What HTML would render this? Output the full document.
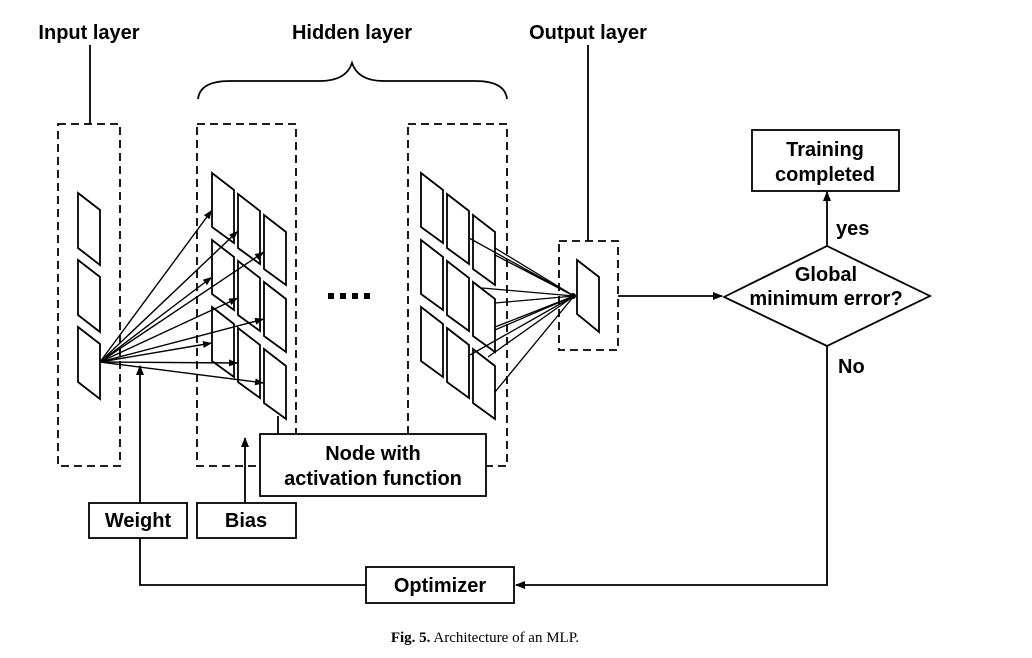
<!DOCTYPE html>
<html><head><meta charset="utf-8"><style>
html,body{margin:0;padding:0;background:#fff;}
svg{display:block;}
.t{font-family:"Liberation Sans",Arial,sans-serif;font-weight:bold;font-size:20px;fill:#000;}
</style></head><body>
<svg width="1032" height="658" viewBox="0 0 1032 658" xmlns="http://www.w3.org/2000/svg">
<defs>
<marker id="a" markerWidth="10" markerHeight="8" refX="9" refY="4" orient="auto" markerUnits="userSpaceOnUse"><path d="M0,0 L10,4 L0,8 z" fill="#000"/></marker>
<marker id="s" markerWidth="9" markerHeight="7" refX="9" refY="3.5" orient="auto" markerUnits="userSpaceOnUse"><path d="M0,0 L9,3.5 L0,7 z" fill="#000"/></marker>
</defs>
<g fill="none" stroke="#000" stroke-width="1.8">
<g stroke-dasharray="8,5">
<rect x="58" y="124" width="62" height="342"/>
<rect x="197" y="124" width="99" height="342"/>
<rect x="408" y="124" width="99" height="342"/>
<rect x="559" y="241" width="59" height="109"/>
</g>
<path d="M90,45 V124"/>
<path d="M588,45 V241"/>
<path d="M198,99 Q200,81 230,81 H320 Q346,81 352,63 Q358,81 384,81 H475 Q505,81 507,99"/>
<g fill="#fff">
<polygon points="78,193 100,210 100,265 78,248"/>
<polygon points="78,260 100,277 100,332 78,315"/>
<polygon points="78,327 100,344 100,399 78,382"/>
</g>
<g fill="#fff">
<polygon points="212,173 234,190 234,243 212,227"/>
<polygon points="238,194 260,211 260,264 238,248"/>
<polygon points="264,215 286,232 286,285 264,269"/>
<polygon points="212,240 234,257 234,310 212,294"/>
<polygon points="238,261 260,278 260,331 238,315"/>
<polygon points="264,282 286,299 286,352 264,336"/>
<polygon points="212,307 234,324 234,377 212,361"/>
<polygon points="238,328 260,345 260,398 238,382"/>
<polygon points="264,349 286,366 286,419 264,403"/>
</g>
<g stroke-width="1.4" marker-end="url(#s)">
<path d="M100,362 L212,210"/><path d="M100,362 L238,231"/><path d="M100,362 L264,252"/>
<path d="M100,362 L212,277"/><path d="M100,362 L238,298"/><path d="M100,362 L264,319"/>
<path d="M100,362 L212,343"/><path d="M100,362 L238,363"/><path d="M100,362 L264,383"/>
</g>
<g fill="#fff">
<polygon points="421,173 443,190 443,243 421,227"/>
<polygon points="447,194 469,211 469,264 447,248"/>
<polygon points="473,215 495,232 495,285 473,269"/>
<polygon points="421,240 443,257 443,310 421,294"/>
<polygon points="447,261 469,278 469,331 447,315"/>
<polygon points="473,282 495,299 495,352 473,336"/>
<polygon points="421,307 443,324 443,377 421,361"/>
<polygon points="447,328 469,345 469,398 447,382"/>
<polygon points="473,349 495,366 495,419 473,403"/>
</g>
<g stroke-width="1.3">
<path d="M495,248 L574,296"/><path d="M495,255 L574,296"/><path d="M469,238 L574,296"/>
<path d="M482,288 L574,296"/><path d="M495,303 L574,296"/><path d="M495,327 L574,296"/>
<path d="M495,330 L574,296"/><path d="M470,355 L574,296"/><path d="M488,357 L574,296"/>
<path d="M495,392 L574,296"/>
</g>
<circle cx="573" cy="296" r="3" fill="#000" stroke="none"/>
<polygon points="577,260 599,277 599,332 577,314" fill="#fff"/>
<g fill="#000" stroke="none">
<rect x="328" y="293" width="6" height="6"/><rect x="340" y="293" width="6" height="6"/>
<rect x="352" y="293" width="6" height="6"/><rect x="364" y="293" width="6" height="6"/>
</g>
<path d="M618,296 H722" marker-end="url(#a)"/>
<polygon points="724,297 827,246 930,296 827,346" fill="#fff"/>
<path d="M827,246 V192" marker-end="url(#a)"/>
<rect x="752" y="130" width="147" height="61" fill="#fff"/>
<path d="M827,346 V585 H516" marker-end="url(#a)"/>
<rect x="366" y="567" width="148" height="36" fill="#fff"/>
<path d="M366,585 H140 V538"/>
<rect x="89" y="503" width="98" height="35" fill="#fff"/>
<path d="M140,503 V366" marker-end="url(#a)"/>
<rect x="197" y="503" width="99" height="35" fill="#fff"/>
<path d="M245,503 V438" marker-end="url(#a)"/>
<path d="M278,434 V416"/>
<rect x="260" y="434" width="226" height="62" fill="#fff"/>
</g>
<text class="t" x="89" y="39" text-anchor="middle">Input layer</text>
<text class="t" x="352" y="39" text-anchor="middle">Hidden layer</text>
<text class="t" x="588" y="39" text-anchor="middle">Output layer</text>
<text class="t" x="825" y="156" text-anchor="middle">Training</text>
<text class="t" x="825" y="181" text-anchor="middle">completed</text>
<text class="t" x="836" y="235">yes</text>
<text class="t" x="826" y="281" text-anchor="middle">Global</text>
<text class="t" x="826" y="305" text-anchor="middle">minimum error?</text>
<text class="t" x="838" y="373">No</text>
<text class="t" x="373" y="460" text-anchor="middle">Node with</text>
<text class="t" x="373" y="485" text-anchor="middle">activation function</text>
<text class="t" x="138" y="527" text-anchor="middle">Weight</text>
<text class="t" x="246" y="527" text-anchor="middle">Bias</text>
<text class="t" x="440" y="592" text-anchor="middle">Optimizer</text>
<text x="485" y="642" text-anchor="middle" font-family="Liberation Serif,serif" font-size="15"><tspan font-weight="bold">Fig. 5.</tspan>  Architecture of an MLP.</text>
</svg>
</body></html>
